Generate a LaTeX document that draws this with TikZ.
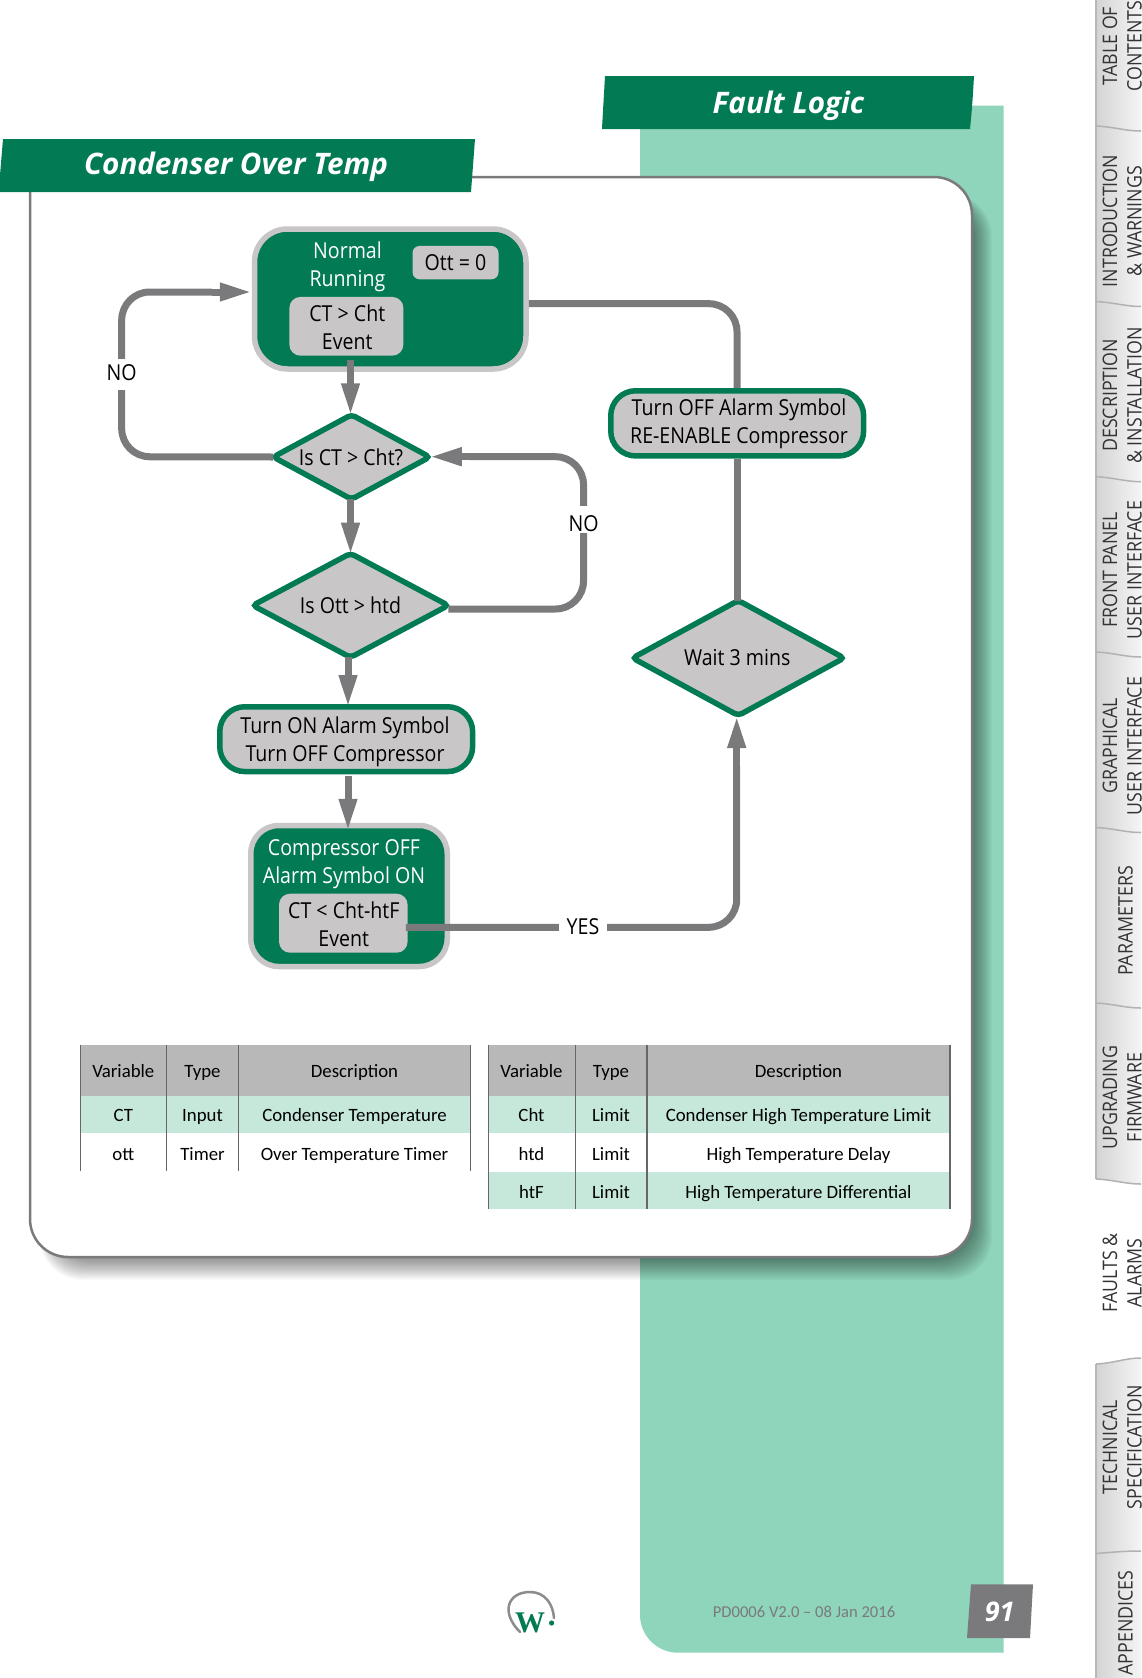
\documentclass[tikz,border=0pt]{standalone}
\usepackage{fontspec}
\usetikzlibrary{shapes.geometric,arrows.meta,calc}
\setmainfont{Open Sans}
\newfontfamily\bodyf[FakeStretch=0.89]{Open Sans}
\newfontfamily\tabf{Carlito}
\newfontfamily\logof{Liberation Serif}
\definecolor{wgreen}{HTML}{027A54}
\definecolor{wteal}{HTML}{8FD5BB}
\definecolor{wpale}{HTML}{C5E8DB}
\definecolor{wgrey}{HTML}{C8C6C7}
\definecolor{wline}{HTML}{7A7A7C}
\definecolor{whead}{HTML}{B8B8B8}
\tikzset{
  box/.style={rectangle,draw=wgrey,fill=wgreen,line width=5.5pt,inner sep=0pt},
  actbox/.style={rectangle,draw=wgreen,fill=wgrey,line width=5.5pt,inner sep=0pt,rounded corners=25pt},
  chip/.style={rectangle,fill=wgrey,inner sep=0pt,font=\bodyf\fontsize{22}{28}\selectfont,align=center,text=black},
  cond/.style={diamond,draw=wgreen,fill=wgrey,line width=5.5pt,inner sep=0pt,outer sep=0pt,shape aspect=2,
    rounded corners=4pt,font=\bodyf\fontsize{22}{28}\selectfont,text=black},
  wtxt/.style={inner sep=0pt,font=\bodyf\fontsize{22}{28}\selectfont,align=center,text=white},
  btxt/.style={inner sep=0pt,font=\bodyf\fontsize{22}{28}\selectfont,align=center,text=black},
  conn/.style={draw=wline,line width=7pt,rounded corners=28pt},
  flow/.style={draw=wline,fill=wline,line width=7pt,-{Triangle[width=17pt,length=32pt]}},
  gap/.style={fill=white,inner sep=0pt},
  lbl/.style={inner sep=0pt,font=\bodyf\fontsize{22}{28}\selectfont,text=black},
  title/.style={inner sep=0pt,font=\fontsize{29.6}{32}\selectfont\bfseries\itshape,text=white},
  cell/.style={inner sep=0pt,text height=13pt,text depth=4pt,font=\tabf\fontsize{18.8}{22}\selectfont,text=black},
  tab/.style={rotate=90,inner sep=0pt,font=\bodyf\fontsize{20}{24}\selectfont,text=black!80},
  vrule/.style={draw=black!60,line width=1pt},
  vruleb/.style={draw=black!60,line width=1.6pt},
  sep/.style={draw=black!30,line width=1.5pt},
}
\begin{document}
\begin{tikzpicture}[x=1pt,y=-1pt]
\useasboundingbox (0,0) rectangle (1141,1678);
\fill[white] (0,0) rectangle (1141,1678);
% teal page panel
\fill[wteal] (640,105.7) -- (1003.5,105.7) -- (1003.5,1652.7) [rounded corners=38pt] -- (640,1652.7) [sharp corners] -- cycle;
% shadow of white panel
\foreach \i in {1,...,20}{
  \fill[black,opacity=.024,rounded corners=42pt] ({50-\i*0.5},{198-\i*0.2}) rectangle ({972+\i},{1257+\i*1.15});
}
% white panel
\draw[draw=wline,fill=white,line width=2.5pt] (30,177) [rounded corners=38pt] -- (972,177) -- (972,1257) -- (30,1257) -- (30,400) [sharp corners] -- cycle;
% side tabs
\shade[left color=black!17,right color=black!4] (1096,0) rectangle (1141,1185);
\shade[left color=black!17,right color=black!4] (1096,1364) -- (1141,1358) -- (1141,1678) -- (1096,1678) -- cycle;
\fill[white] (1096,1179) -- (1141,1185) -- (1141,1190) -- (1096,1190) -- cycle;
\draw[draw=black!28,line width=2.5pt] (1096,0) -- (1096,1179);
\draw[draw=black!28,line width=2.5pt] (1096,1364) -- (1096,1678);
\foreach \yy in {126,301.5,476.7,652,827.5,1003,1179}{
  \draw[sep] (1096,\yy) .. controls (1115,\yy+1) and (1125,\yy+5) .. (1141,\yy+5);
}
\draw[sep] (1096,1364) .. controls (1115,1363) and (1125,1358) .. (1141,1358);
\draw[sep] (1096,1553.5) .. controls (1115,1552) and (1125,1551) .. (1141,1551);
\node[tab] (t1a) at (1110,46) {TABLE OF};
\node[tab] (t1b) at (1134.5,46) {CONTENTS};
\node[tab] (t2a) at (1110,221) {INTRODUCTION};
\node[tab] (t2b) at (1134.5,221) {\& WARNINGS};
\node[tab] (t3a) at (1110,395.5) {DESCRIPTION};
\node[tab] (t3b) at (1134.5,395.5) {\& INSTALLATION};
\node[tab] (t4a) at (1110,570) {FRONT PANEL};
\node[tab] (t4b) at (1134.5,570) {USER INTERFACE};
\node[tab] (t5a) at (1110,746) {GRAPHICAL};
\node[tab] (t5b) at (1134.5,746) {USER INTERFACE};
\node[tab] (t6) at (1125.5,921) {PARAMETERS};
\node[tab] (t7a) at (1110,1097.5) {UPGRADING};
\node[tab] (t7b) at (1134.5,1097.5) {FIRMWARE};
\node[tab] (t8a) at (1110,1273) {FAULTS \&};
\node[tab] (t8b) at (1134.5,1273) {ALARMS};
\node[tab] (t9a) at (1110,1447) {TECHNICAL};
\node[tab] (t9b) at (1134.5,1447) {SPECIFICATION};
\node[tab] (t10) at (1125.5,1623) {APPENDICES};
% title bands
\fill[wgreen] (3,139) -- (475,139) -- (471,192) -- (0,192) -- (0,175) -- cycle;
\node[title] (ttl1) at (236,167) {Condenser Over Temp};
\fill[wgreen] (605,76) .. controls (604,94) and (603,110) .. (602,129) -- (970,129) .. controls (972,110) and (973,94) .. (974,76) -- cycle;
\node[title] (ttl2) at (788.5,106) {Fault Logic};
% left table
\fill[whead] (80.5,1045) rectangle (470,1095.7);
\fill[wpale] (80.5,1095.7) rectangle (470,1133.3);
\foreach \xx in {80.5,166,238.4,470}{ \draw[vrule] (\xx,1045) -- (\xx,1170.7); }
\node[cell] (a1) at (123.3,1073) {Variable};
\node[cell] (a2) at (202.5,1073) {Type};
\node[cell] (a3) at (354.5,1073) {Description};
\node[cell] (b1) at (123.3,1117) {CT};
\node[cell] (b2) at (202.5,1117) {Input};
\node[cell] (b3) at (354.5,1117) {Condenser Temperature};
\node[cell] (c1) at (123.3,1155.5) {ott};
\node[cell] (c2) at (202.5,1155.5) {Timer};
\node[cell] (c3) at (354.5,1155.5) {Over Temperature Timer};
% right table
\fill[whead] (488.4,1045) rectangle (950,1095.7);
\fill[wpale] (488.4,1095.7) rectangle (950,1133.3);
\fill[wpale] (488.4,1171.7) rectangle (950,1209);
\foreach \xx in {488.4,575.3,646.9,950}{ \draw[vruleb] (\xx,1045) -- (\xx,1209); }
\node[cell] (d1a) at (531.5,1073) {Variable};
\node[cell] (d2a) at (611,1073) {Type};
\node[cell] (d3a) at (798.5,1073) {Description};
\node[cell] (e1) at (531.5,1117) {Cht};
\node[cell] (e2) at (611,1117) {Limit};
\node[cell] (e3) at (798.5,1117) {Condenser High Temperature Limit};
\node[cell] (f1) at (531.5,1155.5) {htd};
\node[cell] (f2) at (611,1155.5) {Limit};
\node[cell] (f3) at (798.5,1155.5) {High Temperature Delay};
\node[cell] (g1) at (531.5,1193.5) {htF};
\node[cell] (g2) at (611,1193.5) {Limit};
\node[cell] (g3) at (798.5,1193.5) {High Temperature Differential};
% flow nodes
\node[box,rounded corners=33pt,minimum width=271.5pt,minimum height=140pt] (normal) at (390.25,299) {};
\node[wtxt] (normaltxt) at (347.5,267) {Normal\\Running};
\node[chip,rounded corners=7pt,minimum width=86pt,minimum height=33.3pt] (ott) at (455.5,262.6) {Ott = 0};
\node[chip,rounded corners=11pt,minimum width=114pt,minimum height=58.7pt] (evt1) at (346.4,326.3) {};
\node[btxt] (evt1txt) at (347.3,327.6) {CT > Cht\\Event};
\node[cond,minimum width=156.5pt,minimum height=84.5pt] (q1) at (351.5,457) {\kern-1pt Is CT > Cht?};
\node[cond,minimum width=195.5pt,minimum height=104pt] (q2) at (350.5,605.4) {Is Ott > htd};
\node[cond,minimum width=211.5pt,minimum height=115pt] (q3) at (738.3,658) {\kern-2pt Wait 3 mins};
\node[actbox,minimum width=252.9pt,minimum height=64.8pt] (ton) at (346.2,739.15) {};
\node[btxt] (tontxt) at (345,742) {Turn ON Alarm Symbol\\Turn OFF Compressor};
\node[actbox,minimum width=252.9pt,minimum height=65.2pt] (toff) at (737.2,423.35) {};
\node[btxt] (tofftxt) at (739,423.5) {Turn OFF Alarm Symbol\\RE-ENABLE Compressor};
\node[box,rounded corners=28pt,minimum width=196.5pt,minimum height=141pt] (comp) at (349,896) {};
\node[wtxt] (comptxt) at (344,864.2) {Compressor OFF\\Alarm Symbol ON};
\node[chip,rounded corners=11pt,minimum width=128.6pt,minimum height=59pt] (evt2) at (343.3,923.2) {};
\node[btxt] (evt2txt) at (343.8,924.6) {CT < Cht-htF\\Event};
% bend points
\coordinate (b1a) at (121.7,456.7);
\coordinate (b1b) at (121.7,292);
\coordinate (b2a) at (583.5,609);
\coordinate (b2b) at (583.5,456.7);
\coordinate (b3) at (737,303.7);
\coordinate (b4) at (736.7,927.3);
% connectors
\draw[conn] (q2.east |- b2a) -- (b2a) -- (b2b) -- ([xshift=40pt]q1.east |- b2b);
\draw[conn] ([yshift=-4.7pt]normal.east) -- (b3) -- (toff.north -| b3);
\draw[conn] (toff.south -| b3) -- (q3.north -| b3);
\draw[conn] (q1.west) -- (b1a) -- (b1b) -- ([xshift=-40pt]normal.west |- b1b);
\draw[conn] ([yshift=-4.1pt,xshift=-2pt]evt2.east) -- (b4) -- ([yshift=-50pt]b4 |- q3.south);
% arrow heads and straight flows, drawn over the boxes
\draw[flow] ([xshift=-40pt]normal.west |- b1b) -- (normal.west |- b1b);
\draw[flow] ([xshift=40pt]q1.east |- b2b) -- (q1.east |- b2b);
\draw[flow] ([yshift=-50pt]b4 |- q3.south) -- ([yshift=-0.5pt]b4 |- q3.south);
\draw[flow] ([xshift=-1pt,yshift=12pt]q1.north |- normal.south) -- ([xshift=-1pt,yshift=-0.5pt]q1.north);
\draw[flow] ([xshift=-1pt]q1.south) -- ([yshift=-1.3pt]q2.north);
\draw[flow] ([xshift=-2.5pt]q2.south) -- ([xshift=1.8pt,yshift=-3pt]ton.north);
\draw[flow] ([xshift=1.8pt,yshift=-2pt]ton.south) -- ([xshift=-1pt,yshift=-8pt]comp.north);
% labels on connectors
\node[gap,minimum width=30pt,minimum height=30.7pt] (no1gap) at (121.7,374.6) {};
\node[lbl] (no1) at (121.7,372.5) {NO};
\node[gap,minimum width=30pt,minimum height=27pt] (no2gap) at (583.5,519.5) {};
\node[lbl] (no2) at (583.5,523.4) {NO};
\node[gap,minimum width=48pt,minimum height=14pt] (yesgap) at (583,926.7) {};
\node[lbl] (yes) at (583,926.7) {YES};
% footer
\draw[draw=black!45,line width=2.5pt,line cap=round] (520,1632) .. controls (500,1612) and (508,1592) .. (530,1592) .. controls (545,1592) and (553,1604) .. (554,1618);
\node[inner sep=0pt,text=wgreen,font=\logof\bfseries\fontsize{30}{34}\selectfont] (logow) at (530,1622.5) {W};
\fill[wgreen] (551.6,1623) circle (2.6pt);
\node[inner sep=0pt,text=wline,font=\tabf\fontsize{16.6}{20}\selectfont] (foot) at (804,1612) {PD0006 V2.0 – 08 Jan 2016};
\fill[wline] (971,1584.3) -- (1033,1584.3) -- (1030,1638) -- (967,1638) -- cycle;
\node[inner sep=0pt,text=white,font=\fontsize{27}{30}\selectfont\bfseries\itshape] (page) at (999.7,1612) {91};
\end{tikzpicture}
\end{document}
